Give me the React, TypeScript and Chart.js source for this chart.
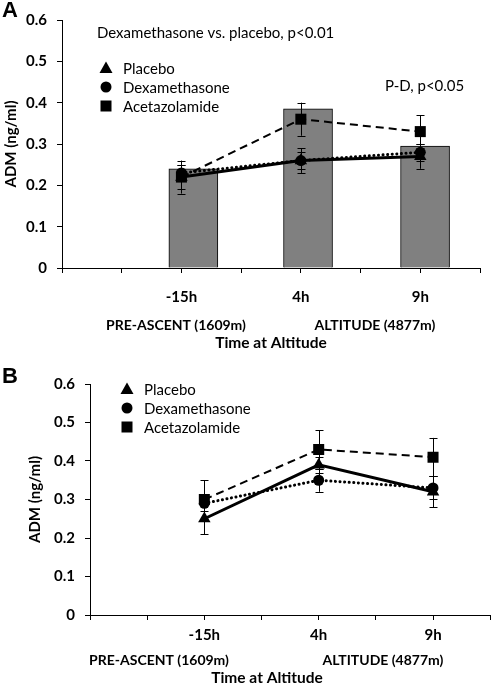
import React, { useEffect, useRef } from 'react';
import { Chart, registerables } from 'chart.js';

Chart.register(...registerables);

// ---------- data ----------
const categoryLabels = ['-15h', '4h', '9h'];
const categoryPositions = [2, 4, 6];
const yTickValues = [0, 0.1, 0.2, 0.3, 0.4, 0.5, 0.6];

// Panel A
const barPositionsA = [2.2, 4.12, 6.08];
const barValuesA = [0.24, 0.385, 0.295];
const placeboA = [0.22, 0.26, 0.27];
const placeboErrA = [0.03, 0.03, 0.03];
const dexaA = [0.23, 0.26, 0.28];
const dexaErrA = [0.02, 0.02, 0.02];
const acetaA = [0.22, 0.36, 0.33];
const acetaErrA = [0.04, 0.04, 0.04];

// Panel B
const placeboB = [0.25, 0.39, 0.32];
const placeboErrB = [0.04, 0.02, 0.04];
const dexaB = [0.29, 0.35, 0.33];
const dexaErrB = [0.02, 0.03, 0.03];
const acetaB = [0.30, 0.43, 0.41];
const acetaErrB = [0.05, 0.05, 0.05];

const seriesNames = ['Placebo', 'Dexamethasone', 'Acetazolamide'];

const FONT = 'Lato, "Open Sans", sans-serif';

// ---------- plugins ----------
const errorBarPlugin = {
  id: 'errorBars',
  afterDatasetDraw(chart: any, args: any) {
    const ds: any = chart.data.datasets[args.index];
    if (!ds.errors) return;
    const meta = chart.getDatasetMeta(args.index);
    const ys = chart.scales.y;
    const ctx = chart.ctx;
    ctx.save();
    ctx.strokeStyle = '#000';
    ctx.lineWidth = 1;
    meta.data.forEach((el: any, i: number) => {
      const v = ds.data[i].y;
      const e = ds.errors[i];
      const x = Math.round(el.x) + 0.5;
      const yTop = ys.getPixelForValue(v + e);
      const yBot = ys.getPixelForValue(v - e);
      ctx.beginPath();
      ctx.moveTo(x, yTop);
      ctx.lineTo(x, yBot);
      ctx.moveTo(x - 4, Math.round(yTop) + 0.5);
      ctx.lineTo(x + 4, Math.round(yTop) + 0.5);
      ctx.moveTo(x - 4, Math.round(yBot) + 0.5);
      ctx.lineTo(x + 4, Math.round(yBot) + 0.5);
      ctx.stroke();
    });
    ctx.restore();
  },
};

function drawMarker(ctx: CanvasRenderingContext2D, style: string, x: number, y: number) {
  ctx.beginPath();
  if (style === 'triangle') {
    ctx.moveTo(x, y - 6.5);
    ctx.lineTo(x + 6.5, y + 5);
    ctx.lineTo(x - 6.5, y + 5);
    ctx.closePath();
  } else if (style === 'circle') {
    ctx.arc(x, y, 5.5, 0, Math.PI * 2);
  } else {
    ctx.rect(x - 5.5, y - 5.5, 11, 11);
  }
  ctx.fill();
}

const annotationPlugin = {
  id: 'annot',
  afterDraw(chart: any, _args: any, opts: any) {
    const ctx = chart.ctx;
    ctx.save();
    ctx.fillStyle = '#000';
    ctx.textBaseline = 'middle';
    (opts.texts || []).forEach((t: any) => {
      ctx.font = t.font;
      ctx.textAlign = t.align || 'left';
      ctx.fillText(t.text, t.x, t.y);
    });
    // legend
    const lg = opts.legend;
    if (lg) {
      ctx.font = lg.font;
      ctx.textAlign = 'left';
      chart.data.datasets.forEach((ds: any) => {
        if (ds.legendIndex === undefined) return;
        const y = lg.y + ds.legendIndex * lg.gap;
        drawMarker(ctx, ds.pointStyle, lg.x, y);
        ctx.fillText(ds.label, lg.x + 17, y + 1);
      });
    }
    ctx.restore();
  },
};

function lineDataset(label: string, values: number[], errors: number[], style: string, dash: number[], width: number, idx: number, cap: string) {
  return {
    type: 'line',
    label,
    data: categoryPositions.map((x, i) => ({ x, y: values[i] })),
    errors,
    legendIndex: idx,
    borderColor: '#000',
    backgroundColor: '#000',
    borderWidth: width,
    borderDash: dash,
    borderCapStyle: cap,
    pointStyle: style,
    pointRadius: style === 'rect' ? 7.8 : style === 'triangle' ? 7.2 : 5.5,
    pointBorderWidth: 0,
    pointBackgroundColor: '#000',
    pointBorderColor: '#000',
    tension: 0,
    fill: false,
    order: 1,
  };
}

function makeConfig(p: any) {
  const datasets: any[] = [];
  if (p.bars) {
    datasets.push({
      type: 'bar',
      label: 'bars',
      data: p.bars.pos.map((x: number, i: number) => ({ x, y: p.bars.values[i] })),
      backgroundColor: '#808080',
      borderColor: '#000',
      borderWidth: 1,
      barThickness: 49,
      order: 10,
    });
  }
  datasets.push(lineDataset(seriesNames[2], p.aceta, p.acetaErr, 'rect', [8, 5], 2, 2, 'butt'));
  datasets.push(lineDataset(seriesNames[1], p.dexa, p.dexaErr, 'circle', [0.1, 4.5], 3, 1, 'round'));
  datasets.push(lineDataset(seriesNames[0], p.placebo, p.placeboErr, 'triangle', [], 3, 0, 'butt'));

  return {
    type: 'bar',
    data: { datasets },
    plugins: [errorBarPlugin, annotationPlugin],
    options: {
      animation: false,
      responsive: false,
      events: [],
      layout: { padding: p.padding },
      scales: {
        x: {
          type: 'linear',
          min: 0,
          max: 7,
          offset: false,
          afterFit: (s: any) => { s.height = p.xHeight; },
          afterBuildTicks: (s: any) => {
            s.ticks = [0, 1, 2, 3, 4, 5, 6, 7].map((v) => ({ value: v }));
          },
          ticks: {
            autoSkip: false,
            maxRotation: 0,
            padding: p.xTickPad,
            color: '#000',
            font: { family: FONT, size: 15, weight: 'bold' },
            callback: (v: number) => {
              const i = categoryPositions.indexOf(v);
              return i >= 0 ? categoryLabels[i] : '';
            },
          },
          grid: {
            display: true,
            drawOnChartArea: false,
            drawTicks: true,
            tickLength: 5,
            tickColor: '#000',
            offset: false,
          },
          border: { display: true, color: '#000', width: 1 },
        },
        y: {
          type: 'linear',
          min: 0,
          max: 0.6,
          afterFit: (s: any) => { s.width = p.yWidth; },
          afterBuildTicks: (s: any) => {
            s.ticks = yTickValues.map((v) => ({ value: v }));
          },
          ticks: {
            padding: 10,
            color: '#000',
            font: { family: FONT, size: 15, weight: 'bold' },
            callback: (v: number) => (v === 0 ? '0' : v.toFixed(1)),
          },
          grid: {
            display: true,
            drawOnChartArea: false,
            drawTicks: true,
            tickLength: 5,
            tickColor: '#000',
          },
          border: { display: true, color: '#000', width: 1 },
          title: {
            display: true,
            text: 'ADM (ng/ml)',
            color: '#000',
            font: { family: FONT, size: 15, weight: 'bold' },
            padding: { top: p.yTitlePad, bottom: 0 },
          },
        },
      },
      plugins: {
        legend: { display: false },
        tooltip: { enabled: false },
        annot: { texts: p.texts, legend: p.legend },
      },
    },
  };
}

function Panel(props: { cfg: any; width: number; height: number; top: number }) {
  const ref = useRef<HTMLCanvasElement>(null);
  useEffect(() => {
    const chart = new Chart(ref.current as HTMLCanvasElement, makeConfig(props.cfg) as any);
    return () => chart.destroy();
  }, []);
  return (
    <canvas
      ref={ref}
      width={props.width}
      height={props.height}
      style={{ position: 'absolute', left: 0, top: props.top, width: props.width, height: props.height }}
    />
  );
}

const boldFont = `bold 14px ${FONT}`;
const titleFont = `bold 15.5px ${FONT}`;
const regFont = `15px ${FONT}`;

const panelA = {
  bars: { pos: barPositionsA, values: barValuesA },
  placebo: placeboA, placeboErr: placeboErrA,
  dexa: dexaA, dexaErr: dexaErrA,
  aceta: acetaA, acetaErr: acetaErrA,
  padding: { left: 0, top: 20, right: 18, bottom: 0 },
  xHeight: 82,
  yWidth: 62,
  xTickPad: 15,
  yTitlePad: 2,
  legend: { x: 106, y: 68, gap: 19, font: regFont },
  texts: [
    { text: 'A', x: 2, y: 11, font: 'bold 22px "Liberation Sans", Arial, sans-serif' },
    { text: 'Dexamethasone vs. placebo, p<0.01', x: 97, y: 33, font: regFont },
    { text: 'P-D, p<0.05', x: 385, y: 86, font: regFont },
    { text: 'PRE-ASCENT (1609m)', x: 176, y: 325, font: boldFont, align: 'center' },
    { text: 'ALTITUDE (4877m)', x: 375, y: 325, font: boldFont, align: 'center' },
    { text: 'Time at Altitude', x: 271, y: 343, font: titleFont, align: 'center' },
  ],
};

const panelB = {
  placebo: placeboB, placeboErr: placeboErrB,
  dexa: dexaB, dexaErr: dexaErrB,
  aceta: acetaB, acetaErr: acetaErrB,
  padding: { left: 0, top: 34, right: 1, bottom: 0 },
  xHeight: 69,
  yWidth: 90,
  xTickPad: 6,
  yTitlePad: 26,
  legend: { x: 127, y: 39, gap: 19, font: regFont },
  texts: [
    { text: 'B', x: 2, y: 27, font: 'bold 22px "Liberation Sans", Arial, sans-serif' },
    { text: 'PRE-ASCENT (1609m)', x: 159, y: 310, font: boldFont, align: 'center' },
    { text: 'ALTITUDE (4877m)', x: 383, y: 310, font: boldFont, align: 'center' },
    { text: 'Time at Altitude', x: 267, y: 328, font: titleFont, align: 'center' },
  ],
};

export default function App() {
  useEffect(() => {
    document.body.style.margin = '0';
    document.body.style.background = '#fff';
  }, []);
  return (
    <div style={{ position: 'relative', width: 498, height: 684, overflow: 'hidden', background: '#fff' }}>
      <Panel cfg={panelA} width={498} height={350} top={0} />
      <Panel cfg={panelB} width={498} height={334} top={350} />
    </div>
  );
}
